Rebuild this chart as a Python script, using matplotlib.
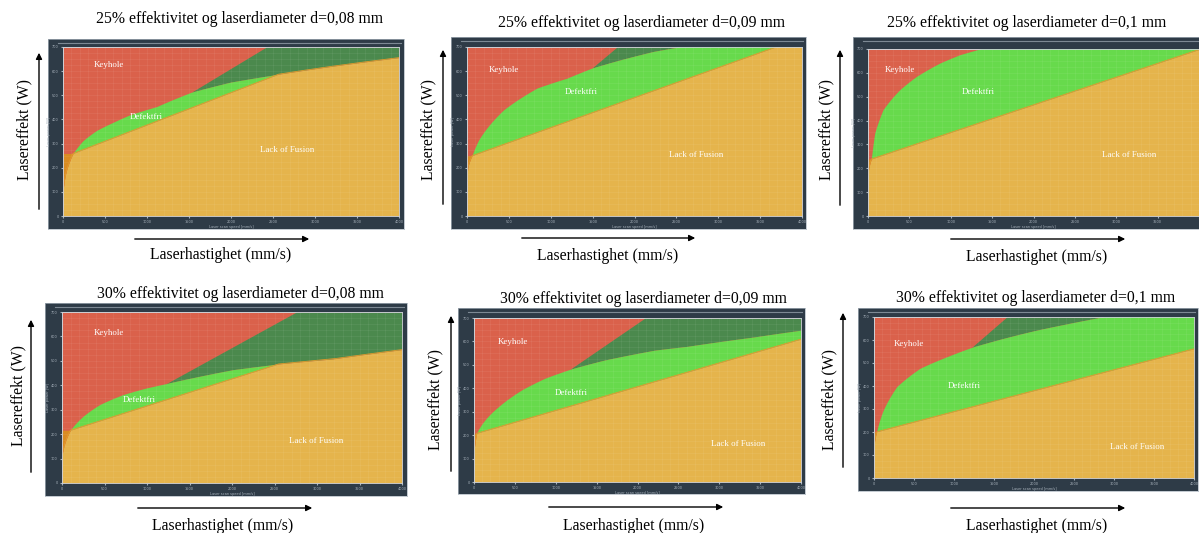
import numpy as np
import matplotlib.pyplot as plt
from matplotlib.patches import FancyArrowPatch
from matplotlib.lines import Line2D

W, H = 1199, 533

# --- data (speed in mm/s, power in W) ---
titles = [
    "25% effektivitet og laserdiameter d=0,08 mm",
    "25% effektivitet og laserdiameter d=0,09 mm",
    "25% effektivitet og laserdiameter d=0,1 mm",
    "30% effektivitet og laserdiameter d=0,08 mm",
    "30% effektivitet og laserdiameter d=0,09 mm",
    "30% effektivitet og laserdiameter d=0,1 mm",
]

# keyhole boundary (top of "Defektfri")
keyhole_v = [
    [0, 8, 40, 119, 238, 398, 596, 795, 1113, 1530, 2000, 2560, 3200, 4000],
    [0, 10, 60, 139, 438, 836, 1194, 1493, 1831, 2229, 2527, 2800],
    [0, 10, 40, 81, 181, 383, 585, 867, 1109, 1351, 1600],
    [0, 10, 40, 98, 247, 443, 718, 992, 1227, 1620, 2012, 2541, 3188, 4000],
    [0, 10, 33, 135, 297, 583, 868, 1174, 1602, 2214, 2607, 3422, 4000],
    [0, 10, 33, 117, 284, 575, 909, 1221, 1616, 2034, 2450, 2850, 3200],
]
keyhole_p = [
    [100, 125, 187, 259, 312, 354, 388, 419, 453, 513, 555, 587, 620, 656],
    [145, 200, 250, 315, 440, 530, 571, 613, 647, 682, 700, 725],
    [170, 200, 239, 347, 445, 529, 585, 641, 676, 700, 730],
    [100, 130, 170, 216, 273, 321, 362, 389, 407, 437, 464, 487, 508, 546],
    [120, 160, 208, 265, 321, 393, 443, 481, 521, 563, 579, 619, 648],
    [130, 165, 201, 296, 397, 477, 527, 568, 607, 643, 673, 700, 725],
]

# lack of fusion boundary
fusion_v = [
    [0, 119, 2560, 4000],
    [0, 60, 3682, 4000],
    [0, 40, 4000],
    [0, 98, 2541, 4000],
    [0, 33, 4000],
    [0, 33, 4000],
]
fusion_p = [
    [259, 259, 587, 780],
    [250, 250, 700, 740],
    [239, 239, 698],
    [216, 216, 487, 649],
    [208, 208, 610],
    [201, 201, 562],
]

# straight edge between the red and dark green area (None = not present)
edge_v = [[1530, 2421], [1493, 1791], None, [1227, 2757], [1174, 2092], [1221, 1659]]
edge_p = [[513, 700], [613, 700], None, [407, 700], [481, 700], [568, 700]]

region_names = ["Keyhole", "Defektfri", "Lack of Fusion"]
region_v = [
    [544, 992, 2667], [438, 1365, 2738], [383, 1331, 3153],
    [549, 914, 2992], [481, 1189, 3230], [434, 1134, 3290],
]
region_p = [
    [624, 411, 273], [606, 513, 253], [613, 519, 256],
    [614, 341, 171], [598, 381, 163], [584, 399, 135],
]

# --- layout in pixels (left, top, right, bottom) ---
frames = [(48, 39, 404, 229), (451, 37, 806, 229), (853, 37, 1215, 229),
          (45, 303, 407, 496), (458, 308, 805, 494), (858, 308, 1198, 491)]
plots = [(63, 47, 399, 216), (467, 47, 802, 216), (868, 49, 1199, 216),
         (62, 312, 402, 483), (474, 318, 801, 482), (874, 317, 1194, 478)]
title_xy = [(240, 19), (642, 23), (1027, 23), (240, 294), (643, 299), (1036, 298)]
yarrow = [(39, 212, 50), (443, 207, 47), (840, 208, 47),
          (31, 475, 317), (451, 474, 313), (843, 470, 310)]
ylabel_xy = [(24, 130), (428, 130), (826, 130), (18, 395), (435, 400), (829, 400)]
xarrow = [(239, 132, 312), (238, 519, 698), (239, 948, 1128),
          (508, 135, 315), (507, 546, 726), (508, 948, 1128)]
xlabel_xy = [(221, 255), (608, 256), (1037, 257), (223, 526), (634, 526), (1037, 526)]

RED = "#da614b"
GREEN = "#67da4c"
DGREEN = "#4b894d"
ORANGE = "#e5b44c"
DORANGE = "#d98b22"
FRAME = "#2e3b47"
SERIF = ["Liberation Serif", "DejaVu Serif"]


def rect(x0, y0, x1, y1):
    return [x0 / W, 1 - y1 / H, (x1 - x0) / W, (y1 - y0) / H]


def fx(x):
    return x / W


def fy(y):
    return 1 - y / H


fig = plt.figure(figsize=(W / 100, H / 100), dpi=100)

for i in range(6):
    fr = fig.add_axes(rect(*frames[i]))
    fr.set_facecolor(FRAME)
    fr.set_xticks([])
    fr.set_yticks([])
    for s in fr.spines.values():
        s.set_color("#aab4be")
        s.set_linewidth(0.5)
    fx0, fy0, fx1, _ = frames[i]
    fig.add_artist(Line2D([fx(fx0 + 10), fx(fx1 - 3)], [fy(fy0 + 3.5)] * 2,
                          color="#7d8994", lw=0.8))

    ax = fig.add_axes(rect(*plots[i]))
    v = np.linspace(0, 4000, 4001)
    # interpolate against sqrt(speed) so the curve bends smoothly
    K = np.interp(np.sqrt(v), np.sqrt(keyhole_v[i]), keyhole_p[i])
    L = np.interp(v, fusion_v[i], fusion_p[i])

    ax.fill_between(v, 0, 700, color=RED, lw=0)
    if edge_v[i] is not None:
        v0, v1 = edge_v[i]
        p0, p1 = edge_p[i]
        B = p0 + (p1 - p0) / (v1 - v0) * (v - v0)
        top = np.minimum(B, 700)
        ax.fill_between(v, K, top, where=(v >= v0) & (top > K),
                        color=DGREEN, lw=0, interpolate=True)
    ax.fill_between(v, L, K, where=K > L, color=GREEN, lw=0, interpolate=True)
    ax.fill_between(v, 0, np.minimum(L, K), color=ORANGE, lw=0)
    ax.fill_between(v, K, L, where=(K < L) & (v < 1000), color=DORANGE,
                    lw=0, interpolate=True)
    ax.plot(v, np.minimum(L, K), color="#e39a2c", lw=0.6)

    ax.set_xlim(0, 4000)
    ax.set_ylim(0, 700)
    ax.set_xticks(np.arange(0, 4001, 500))
    ax.set_yticks(np.arange(0, 701, 100))
    ax.set_xticks(np.arange(0, 4001, 100), minor=True)
    ax.set_yticks(np.arange(0, 701, 25), minor=True)
    ax.grid(which="both", color="white", alpha=0.1, lw=0.4)
    ax.tick_params(which="major", labelsize=2.5, length=1.5, pad=1.5,
                   colors="#a9b3bd")
    ax.tick_params(which="minor", length=0)
    if i == 2:
        # the right edge of this screenshot is cut off in the reference
        ax.set_xticklabels([str(t) for t in range(0, 4000, 500)] + [""])
    ax.set_xlabel("Laser scan speed [mm/s]", fontsize=2.5, color="#a9b3bd",
                  labelpad=0.5)
    ax.set_ylabel("Laser power [W]", fontsize=2.5, color="#a9b3bd",
                  labelpad=0.5)
    for s in ax.spines.values():
        s.set_color("#c9d1d8")
        s.set_linewidth(0.6)

    for name, rv, rp in zip(region_names, region_v[i], region_p[i]):
        ax.text(rv, rp, name, color="white", fontsize=6.4, family=SERIF,
                ha="center", va="center")

    tx, ty = title_xy[i]
    fig.text(fx(tx), fy(ty), titles[i], ha="center", va="center",
             fontsize=11.3, family=SERIF)

    ax_x, y0, y1 = yarrow[i]
    fig.add_artist(FancyArrowPatch((fx(ax_x), fy(y0)), (fx(ax_x), fy(y1)),
                                   transform=fig.transFigure, arrowstyle="-|>",
                                   mutation_scale=9, lw=1, color="black"))
    lx, ly = ylabel_xy[i]
    fig.text(fx(lx), fy(ly), "Lasereffekt (W)", rotation=90, ha="center",
             va="center", fontsize=11.3, family=SERIF)

    ay, x0, x1 = xarrow[i]
    fig.add_artist(FancyArrowPatch((fx(x0), fy(ay)), (fx(x1), fy(ay)),
                                   transform=fig.transFigure, arrowstyle="-|>",
                                   mutation_scale=9, lw=1, color="black"))
    lx, ly = xlabel_xy[i]
    fig.text(fx(lx), fy(ly), "Laserhastighet (mm/s)", ha="center",
             va="center", fontsize=11.3, family=SERIF)

fig.savefig("out.png", dpi=100)
